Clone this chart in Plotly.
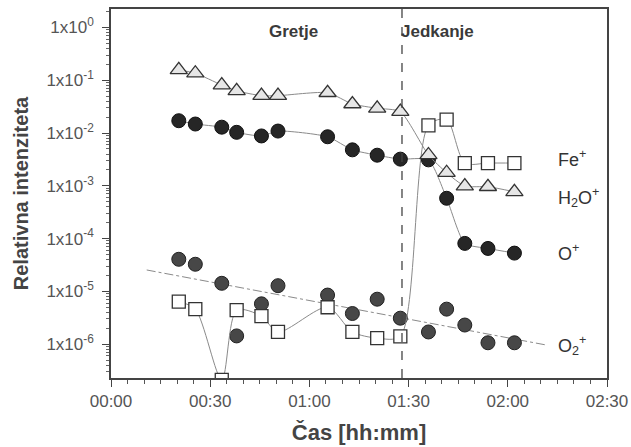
import plotly.graph_objects as go

# ---- data ----
times_min = [20.5, 25.5, 33.5, 38, 45.5, 50.5, 65.5, 73, 80.5, 87.5, 96, 101.5, 107, 114, 122]

fe_plus = [6.4e-6, 4.6e-6, 2.1e-7, 4.4e-6, 3.4e-6, 1.7e-6, 5.0e-6, 1.7e-6, 1.3e-6, 1.4e-6,
           1.4e-2, 1.8e-2, 2.7e-3, 2.7e-3, 2.7e-3]
h2o_plus = [0.157, 0.136, 0.081, 0.063, 0.051, 0.051, 0.058, 0.0355, 0.0294, 0.0254,
            0.00384, 0.00177, 0.00099, 0.00096, 0.00077]
o_plus = [0.0171, 0.0148, 0.0129, 0.0103, 0.0088, 0.0109, 0.0085, 0.0048, 0.0038, 0.0032,
          0.0031, 0.00058, 8.1e-5, 6.5e-5, 5.3e-5]
o2_plus = [4.05e-5, 3.26e-5, 1.42e-5, 1.43e-6, 5.8e-6, 1.28e-5, 8.5e-6, 3.8e-6, 7.1e-6, 3.1e-6,
           1.7e-6, 4.6e-6, 2.3e-6, 1.06e-6, 1.06e-6]

o2_fit_times = [10.8, 131.7]
o2_fit_values = [2.54e-5, 9.6e-7]

phase_boundary_min = 88
phase_labels = ["Gretje", "Jedkanje"]

x_tick_vals = [0, 30, 60, 90, 120, 150]
x_tick_text = ["00:00", "00:30", "01:00", "01:30", "02:00", "02:30"]
y_tick_vals = [1, 1e-1, 1e-2, 1e-3, 1e-4, 1e-5, 1e-6]
y_tick_text = ["1x10<sup>0</sup>", "1x10<sup>-1</sup>", "1x10<sup>-2</sup>", "1x10<sup>-3</sup>",
               "1x10<sup>-4</sup>", "1x10<sup>-5</sup>", "1x10<sup>-6</sup>"]

series_labels = ["Fe<sup>+</sup>", "H<sub>2</sub>O<sup>+</sup>", "O<sup>+</sup>", "O<sub>2</sub><sup>+</sup>"]

# minor log ticks (2..9 within each decade)
y_minor_vals = [m * 10.0 ** e for e in range(-7, 1) for m in range(2, 10)]

# ---- figure ----
LINE = "#8a8a8a"
INK = "#333333"
fig = go.Figure()

fig.add_trace(go.Scatter(x=o2_fit_times, y=o2_fit_values, mode="lines",
                         line=dict(color=LINE, width=1, dash="dashdot"), showlegend=False))
fig.add_trace(go.Scatter(x=times_min, y=o2_plus, mode="markers",
                         marker=dict(symbol="circle", size=14, color="#474747",
                                     line=dict(color="#222", width=1)), showlegend=False))
fig.add_trace(go.Scatter(x=times_min, y=fe_plus, mode="lines+markers",
                         line=dict(color=LINE, width=1, shape="spline", smoothing=0.8),
                         marker=dict(symbol="square", size=13, color="white",
                                     line=dict(color=INK, width=1.3)), showlegend=False))
fig.add_trace(go.Scatter(x=times_min, y=o_plus, mode="lines+markers",
                         line=dict(color=LINE, width=1, shape="spline", smoothing=0.6),
                         marker=dict(symbol="circle", size=14, color="#262626",
                                     line=dict(color="#111", width=1)), showlegend=False))
fig.add_trace(go.Scatter(x=times_min, y=h2o_plus, mode="lines+markers",
                         line=dict(color=LINE, width=1, shape="spline", smoothing=0.6),
                         marker=dict(symbol="triangle-up", size=15, color="#e6e6e6",
                                     line=dict(color=INK, width=1.3)), showlegend=False))

fig.add_shape(type="line", x0=phase_boundary_min, x1=phase_boundary_min, y0=0, y1=1,
              xref="x", yref="paper", line=dict(color="#444", width=1.3, dash="dash"))

fig.add_annotation(x=0.3155, y=0.97, xref="paper", yref="paper", text="<b>" + phase_labels[0] + "</b>",
                   showarrow=False, font=dict(size=17, color="#3a3a3a"))
fig.add_annotation(x=0.736, y=0.97, xref="paper", yref="paper", text="<b>" + phase_labels[1] + "</b>",
                   showarrow=False, font=dict(size=17, color="#3a3a3a"))

label_y = [0.596, 0.488, 0.339, 0.089]
for txt, yy in zip(series_labels, label_y):
    fig.add_annotation(x=0.897, y=yy, xref="paper", yref="paper", text=txt, showarrow=False,
                       xanchor="left", yanchor="middle", font=dict(size=18, color="#333"))

fig.update_layout(
    width=631, height=447,
    margin=dict(l=111, r=24, t=9, b=69, autoexpand=False),
    paper_bgcolor="white", plot_bgcolor="white",
    font=dict(family="Liberation Sans, Arial, sans-serif", color="#444"),
)
fig.update_xaxes(range=[0, 150], tickmode="array", tickvals=x_tick_vals, ticktext=x_tick_text,
                 automargin=False,
                 ticks="outside", ticklen=7, tickcolor="#444", tickwidth=1.2,
                 minor=dict(dtick=5, ticks="outside", ticklen=4, tickcolor="#555", showgrid=False),
                 showline=True, mirror=True, linecolor="#444", linewidth=1.5,
                 showgrid=False, zeroline=False, tickfont=dict(size=17, color="#555"),
                 title=dict(text="<b>Čas [hh:mm]</b>", font=dict(size=22, color="#444"), standoff=14))
fig.update_yaxes(type="log", range=[-6.642, 0.35], tickmode="array", tickvals=y_tick_vals,
                 automargin=False,
                 ticktext=y_tick_text, ticks="outside", ticklen=7, tickcolor="#444", tickwidth=1.2,
                 ticklabelstandoff=5,
                 minor=dict(tickmode="array", tickvals=y_minor_vals, ticks="outside", ticklen=3,
                            tickcolor="#666", showgrid=False),
                 showline=True, mirror=True, linecolor="#444", linewidth=1.5,
                 showgrid=False, zeroline=False, tickfont=dict(size=17, color="#555"),
                 title=dict(text="<b>Relativna intenziteta</b>", font=dict(size=20, color="#444"), standoff=12))

fig.write_html("out.html", config={"displayModeBar": False},
               post_script="document.body.style.margin='0';document.body.style.padding='0';")
